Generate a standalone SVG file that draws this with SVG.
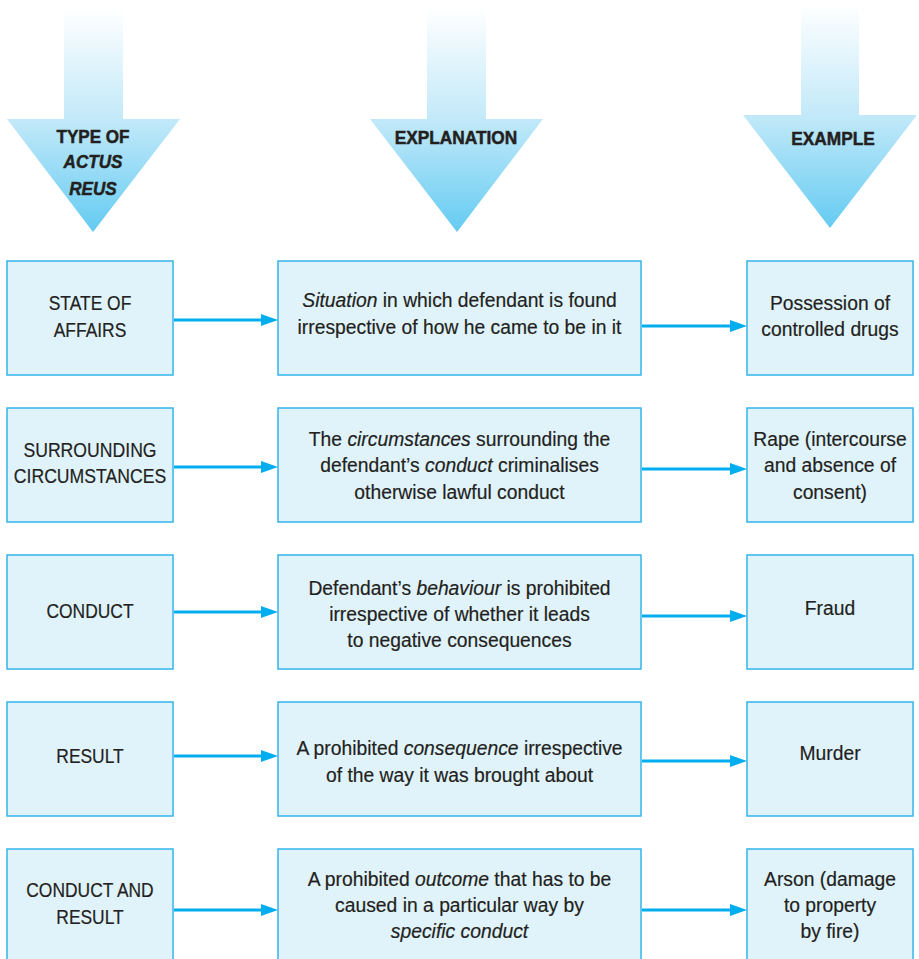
<svg xmlns="http://www.w3.org/2000/svg" width="919" height="959" viewBox="0 0 919 959">
<defs>
<linearGradient id="hg" x1="0" y1="0" x2="0" y2="1">
<stop offset="0" stop-color="#ffffff"/>
<stop offset="0.5" stop-color="#c2e9f9"/>
<stop offset="1" stop-color="#64cbf2"/>
</linearGradient>
<marker id="ah" markerUnits="userSpaceOnUse" markerWidth="20" markerHeight="14" refX="0" refY="6" orient="auto">
<path d="M0,0 L17,6 L0,12 Z" fill="#00aeef"/>
</marker>
</defs>
<style>
.box{fill:#e0f3fb;stroke:#33b5ec;stroke-width:1.5}
.t{font-family:"Liberation Sans",Arial,sans-serif;font-size:21px;fill:#231f20;text-anchor:middle;stroke:#231f20;stroke-width:0.2}
.h{font-family:"Liberation Sans",Arial,sans-serif;font-size:19px;font-weight:bold;fill:#231f20;text-anchor:middle;stroke:#231f20;stroke-width:0.5}
.i{font-style:italic}
.c{stroke:#00aeef;stroke-width:3;fill:none;marker-end:url(#ah)}
.big{fill:url(#hg)}
</style>

<g id="head-type">
<polygon class="big" points="64,8 123,8 123,119 180,119 93,232 7,119 64,119"/>
<text class="h" transform="translate(93 143) scale(0.9 1)"><tspan x="0" y="0">TYPE OF</tspan><tspan class="i" x="0" y="25">ACTUS</tspan><tspan class="i" x="0" y="52">REUS</tspan></text>
</g>
<g id="head-explanation">
<polygon class="big" points="427,8 486,8 486,119 543,119 457,232 370,119 427,119"/>
<text class="h" transform="translate(456 144) scale(0.91 1)">EXPLANATION</text>
</g>
<g id="head-example">
<polygon class="big" points="801,4 859,4 859,115 917,115 830,228 743,115 801,115"/>
<text class="h" transform="translate(833 145) scale(0.91 1)">EXAMPLE</text>
</g>

<g id="r1c1"><rect class="box" x="7" y="261" width="166" height="114"/>
<text class="t" transform="translate(90 310) scale(0.83 1)"><tspan x="0" y="0">STATE OF</tspan><tspan x="0" y="27">AFFAIRS</tspan></text></g>
<g id="r1c2"><rect class="box" x="278" y="261" width="363" height="114"/>
<text class="t" transform="translate(459.5 307) scale(0.92 1)"><tspan x="0" y="0"><tspan class="i">Situation</tspan> in which defendant is found</tspan><tspan x="0" y="27">irrespective of how he came to be in it</tspan></text></g>
<g id="r1c3"><rect class="box" x="747" y="261" width="166" height="114"/>
<text class="t" transform="translate(830 310) scale(0.92 1)"><tspan x="0" y="0">Possession of</tspan><tspan x="0" y="26">controlled drugs</tspan></text></g>

<g id="r2c1"><rect class="box" x="7" y="408" width="166" height="114"/>
<text class="t" transform="translate(90 457) scale(0.84 1)"><tspan x="0" y="0">SURROUNDING</tspan><tspan x="0" y="26">CIRCUMSTANCES</tspan></text></g>
<g id="r2c2"><rect class="box" x="278" y="408" width="363" height="114"/>
<text class="t" transform="translate(459.5 446) scale(0.92 1)"><tspan x="0" y="0">The <tspan class="i">circumstances</tspan> surrounding the</tspan><tspan x="0" y="26.5">defendant’s <tspan class="i">conduct</tspan> criminalises</tspan><tspan x="0" y="53">otherwise lawful conduct</tspan></text></g>
<g id="r2c3"><rect class="box" x="747" y="408" width="166" height="114"/>
<text class="t" transform="translate(830 446) scale(0.92 1)"><tspan x="0" y="0">Rape (intercourse</tspan><tspan x="0" y="26.5">and absence of</tspan><tspan x="0" y="53">consent)</tspan></text></g>

<g id="r3c1"><rect class="box" x="7" y="555" width="166" height="114"/>
<text class="t" transform="translate(90 618) scale(0.83 1)">CONDUCT</text></g>
<g id="r3c2"><rect class="box" x="278" y="555" width="363" height="114"/>
<text class="t" transform="translate(459.5 595) scale(0.92 1)"><tspan x="0" y="0">Defendant’s <tspan class="i">behaviour</tspan> is prohibited</tspan><tspan x="0" y="26">irrespective of whether it leads</tspan><tspan x="0" y="52">to negative consequences</tspan></text></g>
<g id="r3c3"><rect class="box" x="747" y="555" width="166" height="114"/>
<text class="t" transform="translate(830 615) scale(0.92 1)">Fraud</text></g>

<g id="r4c1"><rect class="box" x="7" y="702" width="166" height="114"/>
<text class="t" transform="translate(90 763) scale(0.83 1)">RESULT</text></g>
<g id="r4c2"><rect class="box" x="278" y="702" width="363" height="114"/>
<text class="t" transform="translate(459.5 755) scale(0.92 1)"><tspan x="0" y="0">A prohibited <tspan class="i">consequence</tspan> irrespective</tspan><tspan x="0" y="27">of the way it was brought about</tspan></text></g>
<g id="r4c3"><rect class="box" x="747" y="702" width="166" height="114"/>
<text class="t" transform="translate(830 760) scale(0.92 1)">Murder</text></g>

<g id="r5c1"><rect class="box" x="7" y="849" width="166" height="120"/>
<text class="t" transform="translate(90 897) scale(0.83 1)"><tspan x="0" y="0">CONDUCT AND</tspan><tspan x="0" y="27">RESULT</tspan></text></g>
<g id="r5c2"><rect class="box" x="278" y="849" width="363" height="120"/>
<text class="t" transform="translate(459.5 886) scale(0.92 1)"><tspan x="0" y="0">A prohibited <tspan class="i">outcome</tspan> that has to be</tspan><tspan x="0" y="26.5">caused in a particular way by</tspan><tspan class="i" x="0" y="52">specific conduct</tspan></text></g>
<g id="r5c3"><rect class="box" x="747" y="849" width="166" height="120"/>
<text class="t" transform="translate(830 886) scale(0.92 1)"><tspan x="0" y="0">Arson (damage</tspan><tspan x="0" y="26.5">to property</tspan><tspan x="0" y="52">by fire)</tspan></text></g>

<g id="connectors">
<line class="c" x1="174" y1="320" x2="261" y2="320"/>
<line class="c" x1="642" y1="326" x2="730" y2="326"/>
<line class="c" x1="174" y1="467" x2="261" y2="467"/>
<line class="c" x1="642" y1="469" x2="730" y2="469"/>
<line class="c" x1="174" y1="612" x2="261" y2="612"/>
<line class="c" x1="642" y1="616" x2="730" y2="616"/>
<line class="c" x1="174" y1="756" x2="261" y2="756"/>
<line class="c" x1="642" y1="761" x2="730" y2="761"/>
<line class="c" x1="174" y1="910" x2="261" y2="910"/>
<line class="c" x1="642" y1="910" x2="730" y2="910"/>
</g>
</svg>
